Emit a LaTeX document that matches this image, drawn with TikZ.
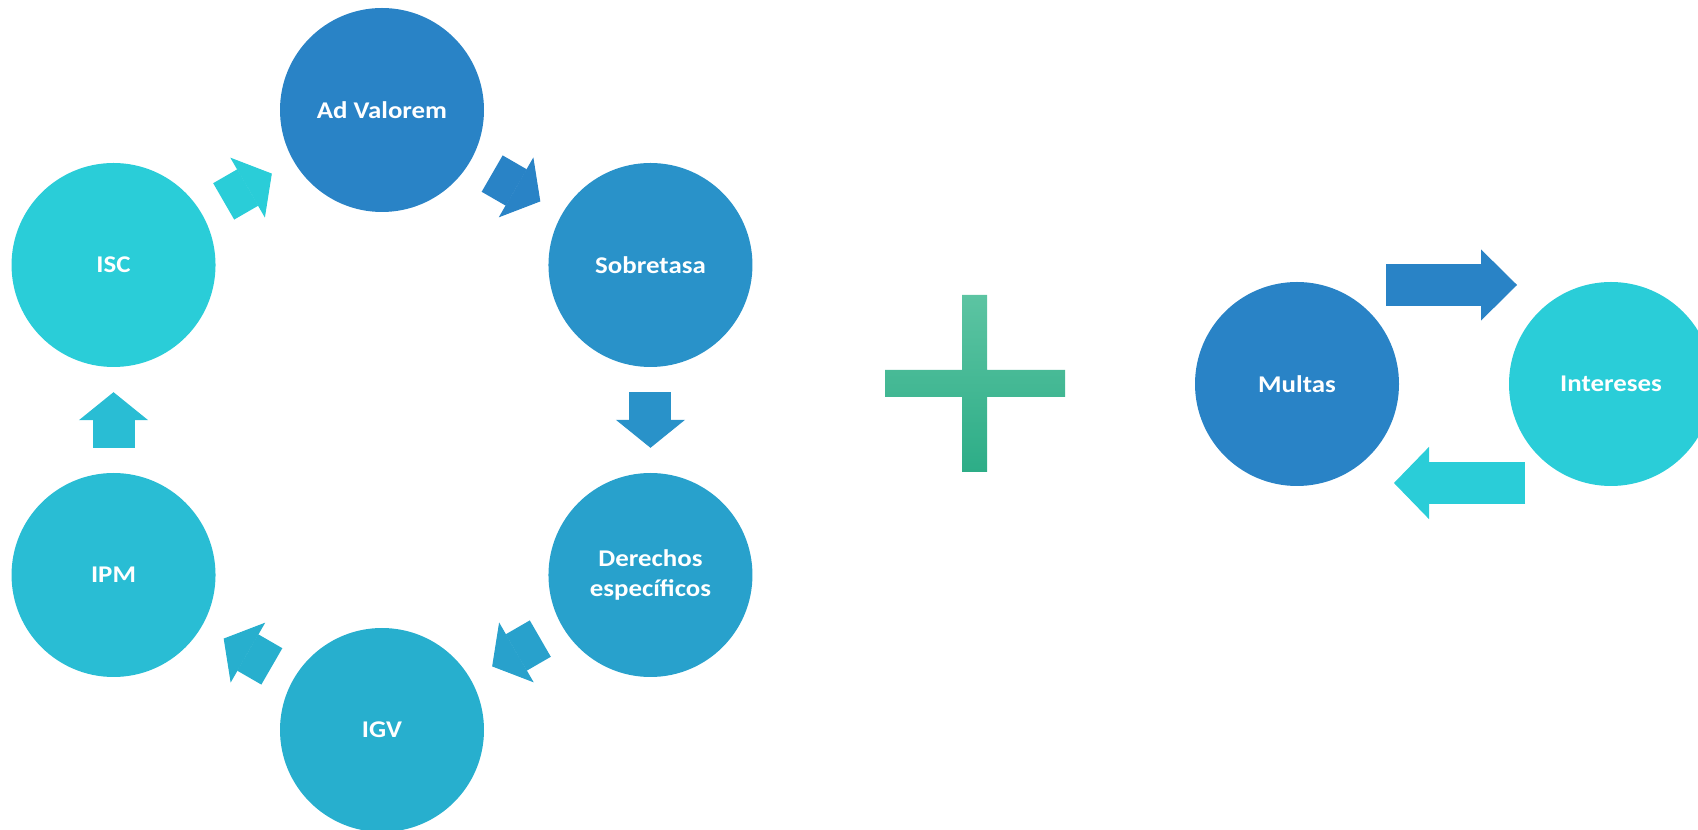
\documentclass[tikz,border=0pt]{standalone}
\usepackage{fontspec}
\setmainfont{Carlito}[FakeStretch=1.12]
\usetikzlibrary{arrows.meta}
\definecolor{c1}{HTML}{2983C6}
\definecolor{c2}{HTML}{2992C9}
\definecolor{c3}{HTML}{28A1CC}
\definecolor{c4}{HTML}{27AFCE}
\definecolor{c5}{HTML}{29BDD4}
\definecolor{c6}{HTML}{2ACDD8}
\definecolor{plustop}{HTML}{5CC4A2}
\definecolor{plusbot}{HTML}{2DAD87}
\begin{document}
\begin{tikzpicture}[x=1pt,y=1pt,
    tax/.style={circle,minimum size=204pt,inner sep=0pt,text=white,align=center,
      font=\fontsize{24}{30}\selectfont\bfseries},
    blk/.style={line width=42pt,-{Triangle[length=28pt,width=69pt,line width=1pt]}}]
  \useasboundingbox (0,0) rectangle (1698,830);
  \clip (0,0) rectangle (1698,830);
  \begin{scope}[shift={(382,410)}]
    \path
      (90:310) node[tax,fill=c1] (adv){Ad Valorem}
      (30:310) node[tax,fill=c2] (sob){Sobretasa}
      (-30:310) node[tax,fill=c3] (der){Derechos\\espec\'ificos}
      (-90:310) node[tax,fill=c4] (igv){IGV}
      (210:310) node[tax,fill=c5] (ipm){IPM}
      (150:310) node[tax,fill=c6] (isc){ISC};
  \end{scope}
  \begin{scope}[blk,shorten <=25pt,shorten >=25pt]
    \draw[c1] (adv) to (sob);
    \draw[c2] (sob) to (der);
    \draw[c3] (der) to (igv);
    \draw[c4] (igv) to (ipm);
    \draw[c5] (ipm) to (isc);
    \draw[c6] (isc) to (adv);
  \end{scope}
  % plus sign
  \path[top color=plustop,bottom color=plusbot]
    (962,535) -- (987,535) -- (987,460) -- (1065,460) -- (1065,433) -- (987,433)
    -- (987,358) -- (962,358) -- (962,433) -- (885,433) -- (885,460) -- (962,460) -- cycle;
  \path
    (1297,446) node[tax,fill=c1] (mul){Multas}
    (1611,446) node[tax,fill=c6] (int){Intereses};
  \draw[blk,c1,shorten <=89pt,shorten >=94pt,-{Triangle[length=36pt,width=71pt,line width=1pt]}]
    ([yshift=99pt]mul.center) -- ([yshift=99pt]int.center);
  \draw[blk,c6,shorten <=86pt,shorten >=97pt,-{Triangle[length=35pt,width=72pt,line width=1pt]}]
    ([yshift=-99pt]int.center) -- ([yshift=-99pt]mul.center);
\end{tikzpicture}
\end{document}
